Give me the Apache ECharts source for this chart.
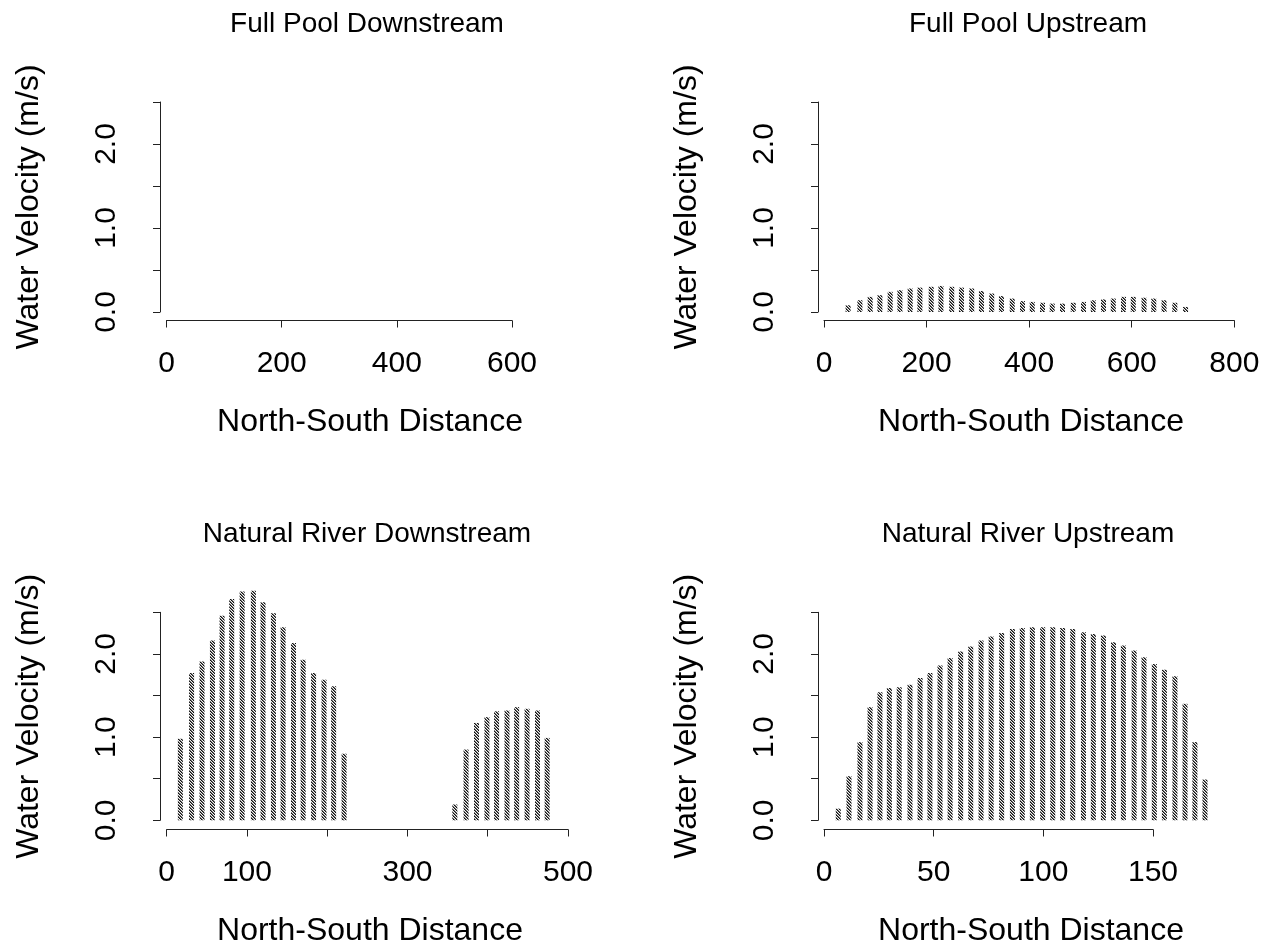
<!DOCTYPE html>
<html>
<head>
<meta charset="utf-8">
<script src="https://cdn.jsdelivr.net/npm/echarts@6/dist/echarts.min.js"></script>
<style>
  html, body { margin: 0; padding: 0; background: #fff; }
  #chart { width: 1273px; height: 945px; }
</style>
</head>
<body>
<div id="chart"></div>
<script>
// ---- data ----
const panelTitles = ['Full Pool Downstream', 'Full Pool Upstream', 'Natural River Downstream', 'Natural River Upstream'];
const xTitle = 'North-South Distance';
const yTitle = 'Water Velocity (m/s)';

// Full Pool Downstream: no visible bars
const fpdX = [];
const fpdV = [];

// Full Pool Upstream
const fpuX = [47, 70, 90, 109, 129, 148, 168, 187, 209, 228, 249, 268, 288, 307, 327, 346, 367,
              387, 406, 426, 445, 465, 486, 506, 525, 545, 564, 584, 603, 624, 643, 663, 684, 705];
const fpuV = [0.08, 0.14, 0.18, 0.20, 0.24, 0.26, 0.28, 0.29, 0.30, 0.31, 0.30, 0.29, 0.28, 0.25, 0.22, 0.19, 0.16,
              0.13, 0.12, 0.11, 0.10, 0.10, 0.11, 0.12, 0.14, 0.15, 0.16, 0.18, 0.18, 0.17, 0.16, 0.14, 0.11, 0.06];

// Natural River Downstream
const nrdX = [17, 31, 44, 57, 69, 81, 94, 108, 120, 133, 145, 158, 170, 183, 196, 208, 221,
              359, 373, 386, 399, 411, 424, 436, 449, 462, 474];
const nrdV = [0.98, 1.77, 1.91, 2.16, 2.46, 2.66, 2.75, 2.76, 2.62, 2.49, 2.32, 2.13, 1.93, 1.77, 1.69, 1.61, 0.80,
              0.19, 0.85, 1.17, 1.24, 1.31, 1.32, 1.36, 1.34, 1.32, 0.99];

// Natural River Upstream
const nruX = [6.5, 11.4, 16.4, 21.0, 25.5, 29.8, 34.3, 39.2, 43.8, 48.3, 52.9, 57.5, 62.3, 66.9, 71.6, 76.2, 81.0,
              85.9, 90.4, 95.0, 99.7, 104.3, 108.8, 113.4, 118.3, 122.8, 127.4, 132.0, 136.5, 141.4, 145.9,
              150.6, 155.2, 160.0, 164.6, 169.1, 173.7];
const nruV = [0.14, 0.53, 0.94, 1.36, 1.54, 1.59, 1.60, 1.63, 1.71, 1.77, 1.86, 1.95, 2.03, 2.09, 2.16, 2.21, 2.25,
              2.30, 2.31, 2.32, 2.32, 2.32, 2.31, 2.30, 2.26, 2.24, 2.22, 2.14, 2.10, 2.04, 1.96,
              1.88, 1.81, 1.73, 1.40, 0.94, 0.49];

// x axis ranges, tick step and which tick labels R kept
const xMax = [600, 800, 500, 150];
const xStep = [200, 200, 100, 50];
const xHidden = [[], [], [200, 400], []];

// ---- layout (pixels) ----
const panels = [
  { yAxisX: 160, x0: 166.5, x1: 512, yTop: 102, yZero: 312, xAxisY: 320.5, cx: 367 },
  { yAxisX: 818, x0: 824, x1: 1234.3, yTop: 102, yZero: 312, xAxisY: 320.5, cx: 1028 },
  { yAxisX: 160, x0: 166.7, x1: 568, yTop: 612.3, yZero: 820.3, xAxisY: 829.5, cx: 367 },
  { yAxisX: 818, x0: 824, x1: 1153, yTop: 612.3, yZero: 820.3, xAxisY: 829.5, cx: 1028 }
];
const seriesX = [fpdX, fpuX, nrdX, nruX];
const seriesV = [fpdV, fpuV, nrdV, nruV];

// hatch pattern like R's density shading
function hatch() {
  const n = 3;
  const c = document.createElement('canvas');
  c.width = n; c.height = n;
  const g = c.getContext('2d');
  g.fillStyle = '#f4f4f4';
  g.fillRect(0, 0, n, n);
  for (let i = 0; i < n; i++) {
    g.fillStyle = '#111';
    g.fillRect(i, i, 1, 1);
    g.fillStyle = '#777';
    g.fillRect((i + 1) % n, i, 1, 1);
  }
  return c;
}
const pattern = { image: hatch(), repeat: 'repeat' };

const txt = '#000';
const axisCol = '#222';
const font = 'Liberation Sans';

const grid = [], xAxis = [], yAxis = [], series = [], title = [];

panels.forEach((p, i) => {
  const ppu = (p.yZero - p.yTop) / 2.5;
  // data grid, carries the x axis
  grid.push({ left: p.x0, top: p.yTop, width: p.x1 - p.x0, height: p.xAxisY - p.yTop });
  xAxis.push({
    gridIndex: 2 * i, type: 'value', min: 0, max: xMax[i], interval: xStep[i],
    axisLine: { show: true, onZero: false, lineStyle: { color: axisCol, width: 1 } },
    axisTick: { show: true, length: 7, lineStyle: { color: axisCol } },
    splitLine: { show: false },
    axisLabel: {
      fontSize: 30, color: txt, fontFamily: font, margin: 28,
      formatter: v => (xHidden[i].indexOf(v) >= 0 ? '' : String(v))
    }
  });
  yAxis.push({
    gridIndex: 2 * i, type: 'value', show: false,
    min: -(p.xAxisY - p.yZero) / ppu, max: 2.5, splitLine: { show: false }
  });
  // y axis only grid
  grid.push({ left: p.yAxisX, top: p.yTop, width: 1, height: p.yZero - p.yTop });
  xAxis.push({ gridIndex: 2 * i + 1, type: 'value', show: false, min: 0, max: 1 });
  yAxis.push({
    gridIndex: 2 * i + 1, type: 'value', min: 0, max: 2.5, interval: 0.5,
    axisLine: { show: true, onZero: false, lineStyle: { color: axisCol, width: 1 } },
    axisTick: { show: true, length: 7, lineStyle: { color: axisCol } },
    splitLine: { show: false },
    axisLabel: {
      rotate: 90, fontSize: 30, color: txt, fontFamily: font, margin: 38,
      formatter: v => (Math.abs(v - Math.round(v)) < 1e-6 ? v.toFixed(1) : '')
    },
    name: yTitle, nameLocation: 'middle', nameGap: 115,
    nameTextStyle: { fontSize: 32, color: txt, fontFamily: font }
  });

  series.push({
    type: 'bar', xAxisIndex: 2 * i, yAxisIndex: 2 * i, barWidth: 5, clip: false,
    itemStyle: { color: pattern },
    data: seriesX[i].map((x, k) => [x, seriesV[i][k]]),
    silent: true
  });

  title.push({
    text: panelTitles[i], left: p.cx, top: p.yTop - 92, textAlign: 'center', padding: 0,
    textStyle: { fontSize: 28, fontWeight: 'normal', color: txt, fontFamily: font }
  });
  title.push({
    text: xTitle, left: p.cx + 3, top: p.xAxisY + 86, textAlign: 'center', padding: 0,
    textStyle: { fontSize: 32, fontWeight: 'normal', color: txt, fontFamily: font }
  });
});

const chart = echarts.init(document.getElementById('chart'));
chart.setOption({
  backgroundColor: '#fff',
  animation: false,
  title: title,
  grid: grid,
  xAxis: xAxis,
  yAxis: yAxis,
  series: series
});
</script>
</body>
</html>
